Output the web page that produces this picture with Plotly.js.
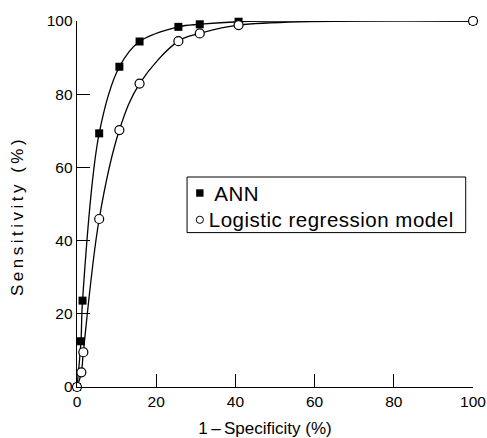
<!DOCTYPE html>
<html>
<head>
<meta charset="utf-8">
<script src="https://cdn.plot.ly/plotly-3.0.1.min.js"></script>
<style>
html,body{margin:0;padding:0;background:#fff;}
#chart{width:487px;height:438px;}
#chart .ytitle{letter-spacing:3.5px;}
#chart .legtext{letter-spacing:0.5px;}
</style>
</head>
<body>
<div id="chart"></div>
<script>
// 1 - specificity (%) and sensitivity (%)
const annX = [0, 1.0, 1.4, 5.6, 10.7, 15.8, 25.6, 31.0, 40.8, 100];
const annY = [0, 12.5, 23.6, 69.3, 87.5, 94.4, 98.4, 99.1, 99.8, 100];
const logX = [0, 1.1, 1.6, 5.6, 10.7, 15.8, 25.6, 31.0, 40.8, 100];
const logY = [0, 4.0, 9.5, 45.9, 70.2, 82.9, 94.5, 96.6, 98.9, 100];
const seriesNames = ["ANN", "Logistic regression model"];
const xTicks = [0, 20, 40, 60, 80, 100];
const yTicks = [0, 20, 40, 60, 80, 100];

const FONT = "Liberation Sans, Arial, Helvetica, sans-serif";
const W = 487, H = 438;
const M = {l: 76.5, r: 14, t: 20.7, b: 51.3};
const PW = W - M.l - M.r, PH = H - M.t - M.b;
// pixel -> paper helpers for the hand-built legend
const px = v => (v - M.l) / PW;
const py = v => (H - M.b - v) / PH;

const traces = [
  {x: logX, y: logY, mode: "lines", line: {color: "#000", width: 1.3, shape: "spline", smoothing: 1}, showlegend: false, hoverinfo: "skip", cliponaxis: false},
  {x: annX, y: annY, mode: "lines", line: {color: "#000", width: 1.3, shape: "spline", smoothing: 1}, showlegend: false, hoverinfo: "skip", cliponaxis: false},
  {x: annX, y: annY, mode: "markers", name: seriesNames[0], showlegend: false, marker: {symbol: "square", size: 8, color: "#000", line: {color: "#000", width: 0}}, cliponaxis: false},
  {x: logX, y: logY, mode: "markers", name: seriesNames[1], showlegend: false, marker: {symbol: "circle", size: 9, color: "#fff", line: {color: "#000", width: 1.2}}, cliponaxis: false}
];

const legL = 186.7, legR = 465.7, legT = 176.7, legB = 232.3;
const row1 = 192.7, row2 = 219.5, symX = 199.5, txtX = 213.5;

const shapes = [
  {type: "rect", xref: "paper", yref: "paper", x0: px(legL), x1: px(legR), y0: py(legB), y1: py(legT), line: {color: "#000", width: 1}, fillcolor: "#fff", layer: "above"},
  {type: "rect", xref: "paper", yref: "paper", x0: px(symX - 3.7), x1: px(symX + 3.7), y0: py(row1 + 3.7), y1: py(row1 - 3.7), line: {color: "#000", width: 0}, fillcolor: "#000", layer: "above"},
  {type: "circle", xref: "paper", yref: "paper", x0: px(symX - 3.6), x1: px(symX + 3.6), y0: py(row2 + 3.6), y1: py(row2 - 3.6), line: {color: "#000", width: 1}, fillcolor: "#fff", layer: "above"}
];

const annotations = seriesNames.map((name, i) => ({
  xref: "paper", yref: "paper", x: px(txtX), y: py(i === 0 ? row1 : row2),
  xanchor: "left", yanchor: "middle", showarrow: false, text: name,
  font: {family: FONT, size: 20.5, color: "#000"}, borderpad: 0, captureevents: false
}));

const layout = {
  width: W, height: H,
  margin: M,
  paper_bgcolor: "#fff", plot_bgcolor: "#fff",
  font: {family: FONT, color: "#000", size: 15},
  showlegend: false,
  shapes: shapes,
  annotations: annotations,
  xaxis: {
    range: [0, 100], tickvals: xTicks, ticktext: xTicks.map(String),
    ticks: "inside", ticklen: 13, tickwidth: 1, tickcolor: "#000",
    showline: true, linecolor: "#000", linewidth: 1.3, mirror: false,
    showgrid: false, zeroline: false, fixedrange: true,
    tickfont: {family: FONT, size: 15.5, color: "#000"},
    title: {text: "1\u2009\u2013\u2009Specificity (%)", font: {family: FONT, size: 17, color: "#000"}, standoff: 13}
  },
  yaxis: {
    range: [0, 100], tickvals: yTicks, ticktext: yTicks.map(String),
    ticks: "inside", ticklen: 13, tickwidth: 1, tickcolor: "#000",
    showline: true, linecolor: "#000", linewidth: 1.3, mirror: false,
    showgrid: false, zeroline: false, fixedrange: true,
    tickfont: {family: FONT, size: 15.5, color: "#000"},
    title: {text: "Sensitivity (%)", font: {family: FONT, size: 17, color: "#000"}, standoff: 18}
  }
};

Plotly.newPlot("chart", traces, layout, {displayModeBar: false, staticPlot: true}).then(gd => {
  gd.querySelectorAll(".annotation-text").forEach(t => t.classList.add("legtext"));
  // nudge the axis titles to where the reference has them
  const yt = gd.querySelector(".ytitle");
  if (yt) yt.setAttribute("transform", (yt.getAttribute("transform") || "") + " translate(-12,0)");
  const xt = gd.querySelector(".xtitle");
  if (xt) xt.setAttribute("transform", (xt.getAttribute("transform") || "") + " translate(-10,0)");
});
</script>
</body>
</html>
